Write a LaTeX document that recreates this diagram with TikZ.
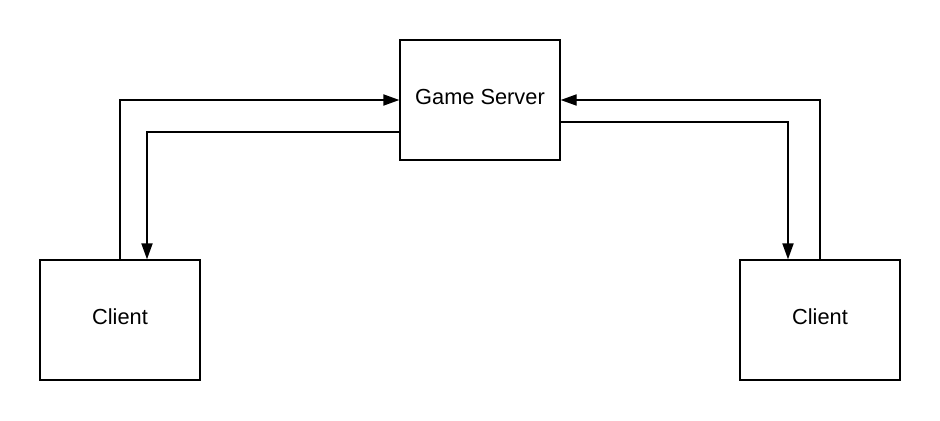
\documentclass[tikz,border=0pt]{standalone}
\usepackage{fontspec}
\setmainfont{Liberation Sans}
\usetikzlibrary{arrows.meta}

\begin{document}
\begin{tikzpicture}[box/.style={rectangle,draw,line width=1pt,minimum height = 3cm,minimum width = 4cm,text depth=0.15cm,font=\fontsize{15.5}{18}\selectfont},
        link/.style={draw,line width=1pt,-{Triangle[length=0.4cm,width=0.28cm]}}]
    \useasboundingbox (0,0) rectangle (23.5,10.5);
    \node at (12,8) [box] (server) {Game Server};
    \node at (3,2.5) [box] (clientA) {Client};
    \node at (20.5,2.5) [box] (clientB) {Client};
    % left client
    \draw[link] (clientA.north) |- (server.west);
    \draw[link] ([yshift=-0.8cm]server.west) -| ([xshift=0.675cm]clientA.north);
    % right client
    \draw[link] (clientB.north) |- (server.east);
    \draw[link] ([yshift=-0.55cm]server.east) -| ([xshift=-0.8cm]clientB.north);
\end{tikzpicture}
\end{document}
